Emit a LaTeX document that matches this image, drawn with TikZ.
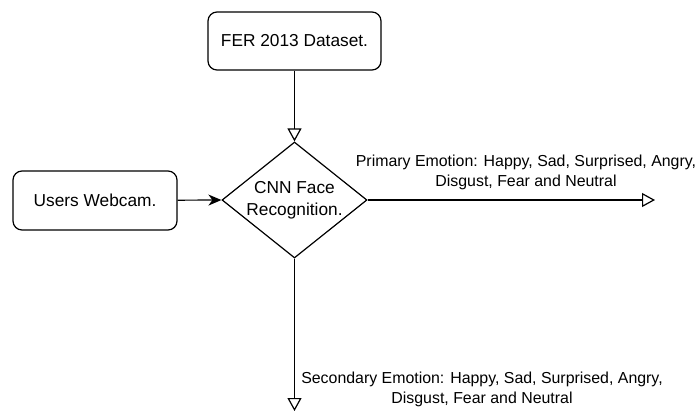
\documentclass[tikz,border=0pt]{standalone}
\usepackage{fontspec}
\setmainfont{Liberation Sans}
\usetikzlibrary{shapes.geometric,arrows.meta}
\begin{document}
\begin{tikzpicture}[x=1pt,y=-1pt,
  line width=1.2pt,
  procbox/.style={draw, rounded corners=9pt, minimum width=173pt, minimum height=58pt, inner sep=0pt, font=\fontsize{17.3}{20}\selectfont},
  decision/.style={draw, diamond, aspect=1.25, minimum width=145pt, minimum height=116pt, inner sep=-10pt, align=center, font=\fontsize{17.3}{21.5}\selectfont},
  openarrow/.style={-{Triangle[open, length=13pt, width=14pt, line width=1.2pt]}},
  solidarrow/.style={-{Stealth[length=13pt, width=11pt, inset=4pt]}},
  elabel/.style={align=center, inner sep=0pt, font=\fontsize{15.9}{20}\selectfont}
]
\useasboundingbox (0,0) rectangle (697,416);
\node[procbox] (fer) at (294.5,41) {FER 2013 Dataset.};
\node[procbox, minimum width=164pt, minimum height=59pt] (cam) at (95,200.5) {Users Webcam.};
\node[decision] (cnn) at (294.5,200) {CNN Face\\Recognition.};
\coordinate (pend) at (655,200);
\coordinate (send) at (294.5,411);
\draw[openarrow] (fer) -- (cnn.north);
\draw[solidarrow] (cam) -- (cnn.west);
\draw[openarrow] (cnn.east) -- (pend);
\draw[openarrow] (cnn.south) -- (send);
\node[elabel] (plabel) at (526,172) {Primary Emotion: Happy, Sad, Surprised, Angry,\\Disgust, Fear and Neutral};
\node[elabel] (slabel) at (482,389) {Secondary Emotion: Happy, Sad, Surprised, Angry,\\Disgust, Fear and Neutral};
\end{tikzpicture}
\end{document}
